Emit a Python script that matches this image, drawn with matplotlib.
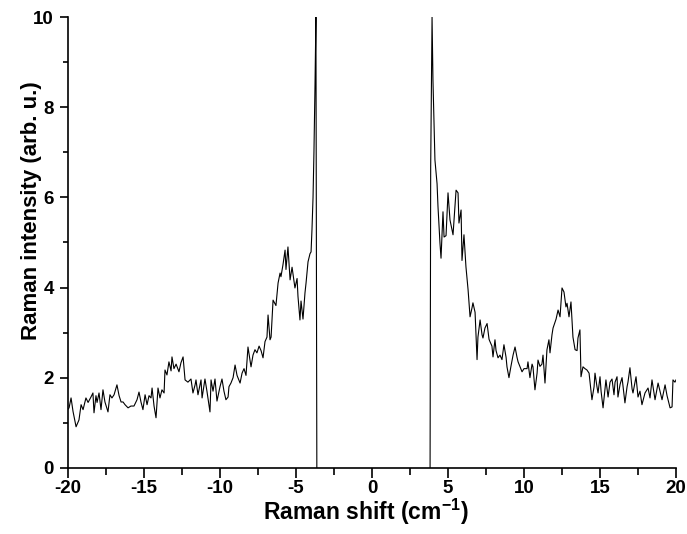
# Raman spectrum, anti-Stokes (left) and Stokes (right) sides
import numpy as np
import matplotlib
matplotlib.use("Agg")
import matplotlib.pyplot as plt
from matplotlib.ticker import MultipleLocator

plt.rcParams['font.family'] = ['Liberation Sans', 'DejaVu Sans']
plt.rcParams['axes.unicode_minus'] = False
plt.rcParams['mathtext.fontset'] = 'custom'
plt.rcParams['mathtext.rm'] = 'Liberation Sans'
plt.rcParams['mathtext.bf'] = 'Liberation Sans:bold'

# anti-Stokes side
x_left = [-20.0, -19.93, -19.8, -19.67, -19.47, -19.28, -19.14, -19.01, -18.82, -18.68,
          -18.49, -18.36, -18.29, -18.16, -18.09, -17.96, -17.83, -17.7, -17.57, -17.37,
          -17.24, -17.11, -16.97, -16.78, -16.64, -16.51, -16.38, -16.25, -16.05, -15.86,
          -15.66, -15.46, -15.33, -15.2, -15.07, -14.93, -14.8, -14.67, -14.54, -14.47,
          -14.34, -14.21, -14.08, -13.95, -13.82, -13.68, -13.62, -13.49, -13.36, -13.22,
          -13.16, -13.03, -12.89, -12.7, -12.57, -12.43, -12.3, -12.11, -11.91, -11.78,
          -11.64, -11.58, -11.45, -11.25, -11.18, -10.99, -10.86, -10.66, -10.59, -10.46,
          -10.33, -10.2, -10.0, -9.87, -9.74, -9.61, -9.47, -9.41, -9.28, -9.14,
          -9.01, -8.88, -8.68, -8.55, -8.42, -8.29, -8.16, -8.03, -7.96, -7.83,
          -7.7, -7.57, -7.43, -7.3, -7.17, -7.04, -6.91, -6.84, -6.71, -6.64,
          -6.51, -6.32, -6.18, -6.05, -5.99, -5.86, -5.72, -5.66, -5.53, -5.39,
          -5.26, -5.2, -5.07, -4.93, -4.87, -4.74, -4.67, -4.54, -4.41, -4.34,
          -4.21, -4.08, -4.01, -3.95, -3.88, -3.82, -3.75, -3.69, -3.63]
y_left = [1.30, 1.33, 1.55, 1.25, 0.91, 1.06, 1.40, 1.29, 1.55, 1.45,
          1.57, 1.66, 1.22, 1.60, 1.45, 1.66, 1.29, 1.73, 1.46, 1.24,
          1.62, 1.55, 1.62, 1.84, 1.60, 1.46, 1.46, 1.40, 1.33, 1.37,
          1.37, 1.51, 1.68, 1.46, 1.29, 1.62, 1.40, 1.60, 1.55, 1.77,
          1.37, 1.11, 1.77, 1.55, 1.73, 1.66, 2.17, 2.06, 2.35, 2.15,
          2.46, 2.20, 2.30, 2.13, 2.33, 2.46, 1.95, 1.90, 1.97, 1.66,
          1.84, 1.95, 1.62, 1.95, 1.55, 1.97, 1.70, 1.24, 1.95, 1.70,
          1.97, 1.48, 1.80, 1.97, 1.70, 1.51, 1.57, 1.80, 1.88, 2.00,
          2.28, 2.05, 1.88, 2.10, 2.20, 2.05, 2.68, 2.40, 2.24, 2.50,
          2.62, 2.55, 2.70, 2.60, 2.44, 2.80, 2.90, 3.39, 2.84, 2.90,
          3.72, 3.60, 4.10, 4.32, 4.24, 4.50, 4.83, 4.40, 4.90, 4.17,
          4.45, 4.30, 3.99, 4.20, 3.80, 3.28, 3.70, 3.30, 3.88, 4.10,
          4.57, 4.75, 4.79, 5.28, 6.00, 7.00, 8.50, 10.0, 0.0]

# Stokes side
x_right = [3.82, 3.86, 3.95, 4.01, 4.14, 4.28, 4.34, 4.47, 4.54, 4.67,
           4.74, 4.87, 5.0, 5.13, 5.33, 5.46, 5.53, 5.66, 5.72, 5.86,
           5.92, 6.05, 6.18, 6.32, 6.45, 6.58, 6.64, 6.78, 6.91, 6.97,
           7.11, 7.24, 7.3, 7.43, 7.57, 7.7, 7.76, 7.89, 7.96, 8.09,
           8.16, 8.29, 8.42, 8.55, 8.68, 8.82, 8.88, 9.01, 9.14, 9.28,
           9.41, 9.54, 9.61, 9.74, 9.87, 10.0, 10.2, 10.26, 10.39, 10.53,
           10.59, 10.72, 10.86, 10.92, 11.05, 11.18, 11.25, 11.38, 11.51, 11.64,
           11.71, 11.84, 11.91, 12.11, 12.24, 12.37, 12.5, 12.63, 12.76, 12.83,
           12.96, 13.09, 13.22, 13.36, 13.49, 13.55, 13.68, 13.75, 13.88, 14.01,
           14.14, 14.28, 14.47, 14.61, 14.67, 14.8, 14.87, 15.0, 15.07, 15.2,
           15.39, 15.53, 15.66, 15.79, 15.92, 15.99, 16.12, 16.18, 16.32, 16.45,
           16.64, 16.78, 16.84, 16.97, 17.11, 17.17, 17.37, 17.5, 17.63, 17.76,
           17.96, 18.16, 18.29, 18.42, 18.62, 18.82, 18.95, 19.08, 19.28, 19.41,
           19.61, 19.74, 19.8, 19.93, 20.0]
y_right = [0.0, 6.67, 10.0, 8.60, 6.83, 6.30, 5.80, 4.99, 4.65, 5.68,
           5.12, 5.15, 6.10, 5.50, 5.17, 5.80, 6.16, 6.10, 5.43, 5.72,
           4.60, 5.17, 4.46, 3.95, 3.35, 3.55, 3.66, 3.45, 2.40, 2.90,
           3.28, 2.95, 2.88, 3.10, 3.20, 2.85, 2.80, 2.70, 2.46, 2.84,
           2.60, 2.44, 2.50, 2.40, 2.73, 2.45, 2.24, 2.00, 2.25, 2.50,
           2.68, 2.45, 2.35, 2.24, 2.13, 2.20, 2.20, 2.35, 2.00, 2.30,
           2.24, 1.73, 2.10, 2.39, 2.25, 2.30, 2.50, 1.88, 2.62, 2.84,
           2.55, 2.95, 3.10, 3.30, 3.50, 3.35, 3.99, 3.90, 3.57, 3.65,
           3.35, 3.68, 2.90, 2.62, 2.60, 2.88, 3.06, 2.02, 2.24, 2.20,
           2.17, 2.10, 1.51, 1.80, 2.10, 1.80, 1.66, 2.02, 1.70, 1.33,
           1.95, 1.57, 1.90, 1.97, 1.62, 1.90, 2.02, 1.57, 1.85, 2.00,
           1.44, 1.80, 1.90, 2.22, 1.75, 1.66, 2.02, 1.57, 1.70, 1.40,
           1.66, 1.77, 1.55, 1.95, 1.51, 1.88, 1.70, 1.51, 1.84, 1.60,
           1.33, 1.35, 1.95, 1.90, 1.95]

fig = plt.figure(figsize=(6.87, 5.34), dpi=100)
ax = fig.add_axes([0.099, 0.124, 0.885, 0.844])

ax.plot(x_left, y_left, color='black', lw=0.8)
ax.plot(x_right, y_right, color='black', lw=0.8)

ax.set_xlim(-20, 20)
ax.set_ylim(0, 10)
ax.xaxis.set_major_locator(MultipleLocator(5))
ax.xaxis.set_minor_locator(MultipleLocator(2.5))
ax.yaxis.set_major_locator(MultipleLocator(2))
ax.yaxis.set_minor_locator(MultipleLocator(1))
ax.tick_params(which='both', direction='out', width=1.2, labelsize=13.5)
ax.tick_params(axis='x', which='major', length=7, pad=1.5)
ax.tick_params(axis='x', which='minor', length=5)
ax.tick_params(axis='y', which='major', length=6, pad=4)
ax.tick_params(axis='y', which='minor', length=3.6)
for lab in ax.get_xticklabels() + ax.get_yticklabels():
    lab.set_fontweight('bold')

ax.spines['top'].set_visible(False)
ax.spines['right'].set_visible(False)
ax.spines['left'].set_linewidth(1.2)
ax.spines['bottom'].set_linewidth(1.2)

ax.set_xlabel("Raman shift (cm$^{\\mathbf{-1}}$)", fontsize=16.5, fontweight='bold')
ax.xaxis.set_label_coords(0.49, -0.064)
ax.set_ylabel("Raman intensity (arb. u.)", fontsize=16, fontweight='bold')
ax.yaxis.set_label_coords(-0.043, 0.57)

fig.savefig("out.png", dpi=100)
